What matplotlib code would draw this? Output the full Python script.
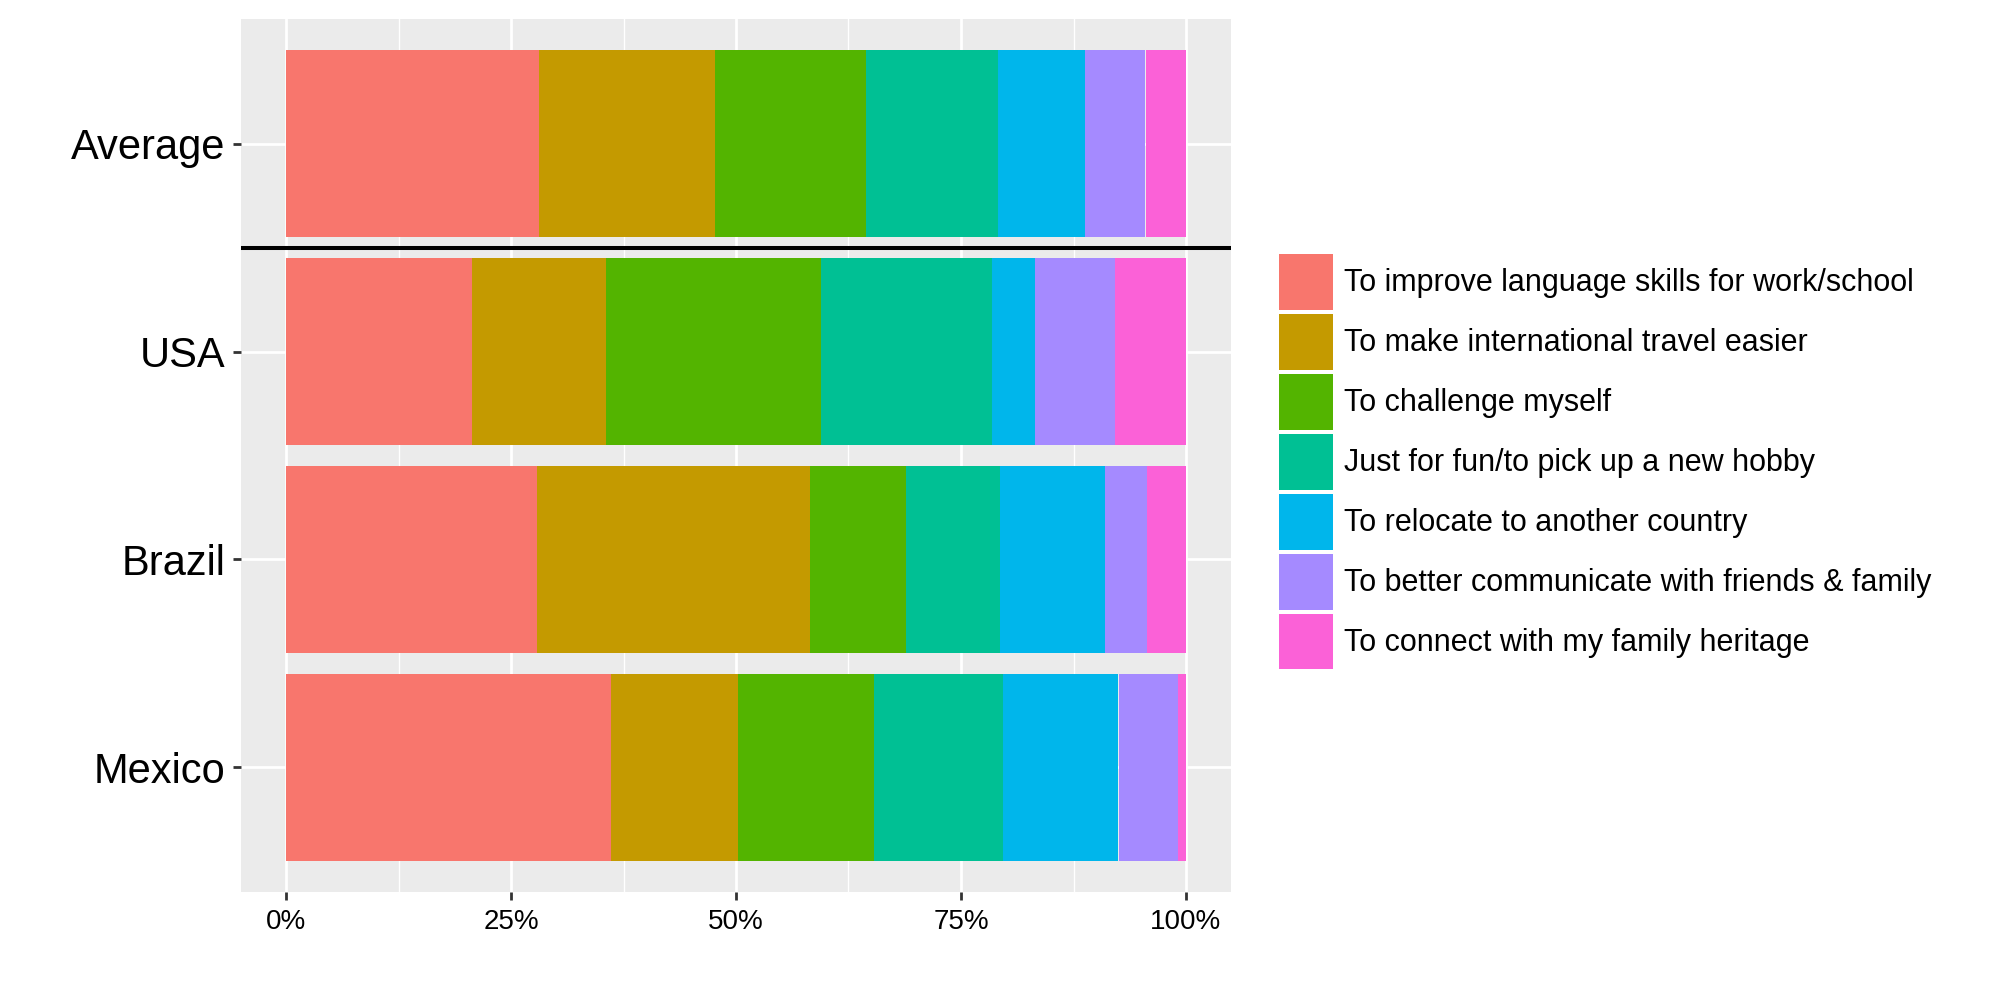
import matplotlib.pyplot as plt
from matplotlib.ticker import FixedLocator, PercentFormatter

plt.rcParams['font.family'] = ['Liberation Sans', 'DejaVu Sans']

# data, shares in percent
groups = ["Average", "USA", "Brazil", "Mexico"]
reasons = [
    "To improve language skills for work/school",
    "To make international travel easier",
    "To challenge myself",
    "Just for fun/to pick up a new hobby",
    "To relocate to another country",
    "To better communicate with friends & family",
    "To connect with my family heritage",
]
colors = ["#F8766D", "#C49A00", "#53B400", "#00C094", "#00B6EB", "#A58AFF", "#FB61D7"]

average = [28.1, 19.6, 16.7, 14.7, 9.7, 6.7, 4.5]
usa = [20.7, 14.9, 23.9, 19.0, 4.7, 8.9, 7.9]
brazil = [27.9, 30.3, 10.7, 10.4, 11.7, 4.7, 4.3]
mexico = [36.1, 14.1, 15.1, 14.4, 12.8, 6.6, 0.9]

shares = [average, usa, brazil, mexico]

fig = plt.figure(figsize=(20, 10), dpi=100)
ax = fig.add_axes([0.1205, 0.108, 0.495, 0.873])
ax.set_facecolor("#EBEBEB")

ypos = list(range(len(groups)))[::-1]   # Average on top

handles = []
for k, reason in enumerate(reasons):
    vals = [s[k] for s in shares]
    lefts = [sum(s[:k]) for s in shares]
    b = ax.barh(ypos, vals, left=lefts, height=0.9, color=colors[k],
                label=reason, zorder=3, linewidth=0)
    handles.append(b)

# separator between the average and the countries
ax.axhline(2.5, color="black", linewidth=2.9, zorder=4)

ax.set_xlim(-5, 105)
ax.set_ylim(-0.6, 3.6)
ax.xaxis.set_major_locator(FixedLocator([0, 25, 50, 75, 100]))
ax.xaxis.set_minor_locator(FixedLocator([12.5, 37.5, 62.5, 87.5]))
ax.xaxis.set_major_formatter(PercentFormatter(decimals=0))
ax.set_yticks(ypos)
ax.set_yticklabels(groups)

ax.grid(True, which="major", color="white", linewidth=2.0, zorder=0)
ax.grid(True, which="minor", axis="x", color="white", linewidth=1.0, zorder=0)
ax.set_axisbelow(True)
for s in ax.spines.values():
    s.set_visible(False)

ax.tick_params(axis="both", which="major", length=6, width=2, color="#333333")
ax.tick_params(axis="x", which="minor", length=0)
ax.tick_params(axis="y", labelsize=30, pad=5)
ax.tick_params(axis="x", labelsize=20, pad=6)

fig.legend(handles=handles, labels=reasons, loc="upper left",
           bbox_to_anchor=(0.6395, 0.746), frameon=False, fontsize=22,
           handlelength=1.77, handleheight=2.44, labelspacing=0.13,
           handletextpad=0.36, borderaxespad=0, borderpad=0)

fig.savefig("out.png", dpi=100)
